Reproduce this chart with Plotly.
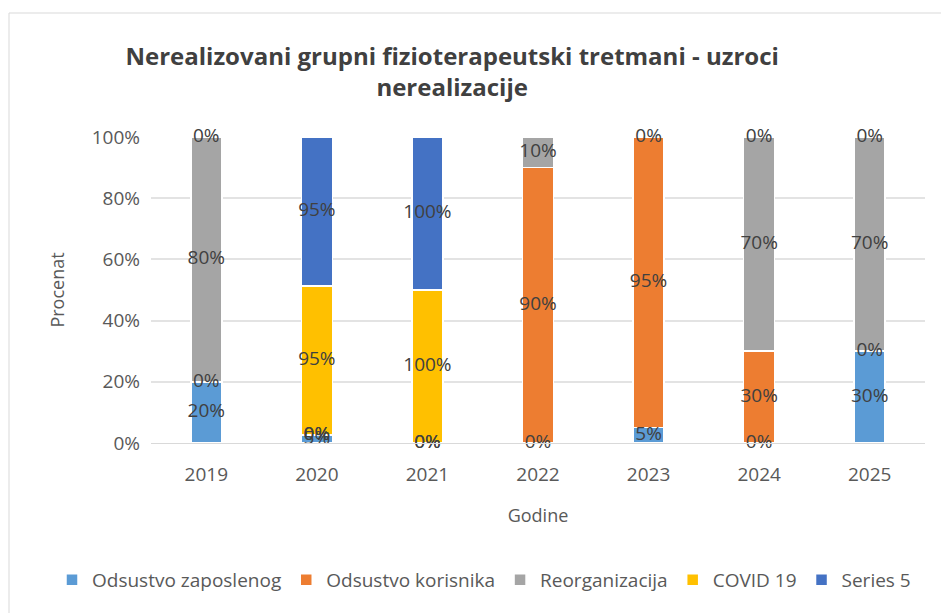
import plotly.graph_objects as go

years = ['2019', '2020', '2021', '2022', '2023', '2024', '2025']
odsustvo_zaposlenog = [20, 5, 0, 0, 5, 0, 30]
odsustvo_korisnika = [0, 0, 0, 90, 95, 30, 0]
reorganizacija = [80, 0, None, 10, 0, 70, 70]
covid19 = [0, 95, 100, None, None, 0, 0]
series5 = [None, 95, 100, None, None, None, None]

series = [
    ('Odsustvo zaposlenog', odsustvo_zaposlenog, '#5B9BD5'),
    ('Odsustvo korisnika', odsustvo_korisnika, '#ED7D31'),
    ('Reorganizacija', reorganizacija, '#A5A5A5'),
    ('COVID 19', covid19, '#FFC000'),
    ('Series 5', series5, '#4472C4'),
]

FONT = 'Open Sans'
fig = go.Figure()
for name, vals, col in series:
    fig.add_trace(go.Bar(
        x=years, y=vals, name=name,
        marker=dict(color=col, line=dict(color='white', width=1.5)),
        hoverinfo='skip',
    ))

# data labels at segment centres (normalised stack)
totals = [sum(s[1][i] or 0 for s in series) for i in range(len(years))]
for idx, (name, vals, col) in enumerate(series):
    xs, ys, ts = [], [], []
    for i, v in enumerate(vals):
        if v is None:
            continue
        base = sum(series[k][1][i] or 0 for k in range(idx))
        mid = (base + v / 2) / totals[i] * 100
        xs.append(years[i]); ys.append(mid); ts.append(f'{v}%')
    fig.add_trace(go.Scatter(
        x=xs, y=ys, text=ts, mode='text', showlegend=False,
        textfont=dict(family=FONT, size=19, color='#404040'),
        cliponaxis=False, hoverinfo='skip',
    ))

# page body has an 8px margin, so the figure is drawn 8px in from the window edge
W, H = 941, 605
ml, mr, mt, mb = 143, 24, 129, 170
pw, ph = W - ml - mr, H - mt - mb

fig.update_layout(
    width=W, height=H,
    barmode='stack', barnorm='percent', bargap=0.72,
    plot_bgcolor='white', paper_bgcolor='white',
    margin=dict(l=ml, r=mr, t=mt, b=mb, autoexpand=False),
    title=dict(
        text='<b>Nerealizovani grupni fizioterapeutski tretmani - uzroci<br>nerealizacije</b>',
        x=0.472, xanchor='center', y=0.906, yanchor='top',
        font=dict(family=FONT, size=24, color='#404040'),
    ),
    font=dict(family=FONT, color='#595959', size=18),
    xaxis=dict(
        title=dict(text='Godine', font=dict(size=18, color='#595959'), standoff=23),
        showgrid=False, showline=True, linecolor='#D9D9D9', linewidth=1,
        tickfont=dict(size=19, color='#595959'), ticks='', automargin=False,
        ticklabelstandoff=14,
    ),
    yaxis=dict(
        title=dict(text='Procenat', font=dict(size=18, color='#595959'), standoff=22),
        range=[0, 100], dtick=20, ticksuffix='%',
        showgrid=True, gridcolor='#E3E3E3', gridwidth=1.5, zeroline=False,
        tickfont=dict(size=19, color='#595959'), ticks='', automargin=False,
        ticklabelstandoff=10,
    ),
    legend=dict(
        orientation='h',
        x=(44 - ml) / pw, xanchor='left', y=(H - mb - 572) / ph, yanchor='middle',
        font=dict(size=19, color='#595959'), traceorder='normal',
        itemwidth=30,
    ),
    shapes=[dict(
        type='rect', xref='paper', yref='paper',
        x0=(1 - ml) / pw, x1=(W + 20 - ml) / pw,
        y0=(H - mb - (H + 20)) / ph, y1=(H - mb - 5) / ph,
        line=dict(color='#D9D9D9', width=1), layer='below',
    )],
)

fig.write_html('out.html')
